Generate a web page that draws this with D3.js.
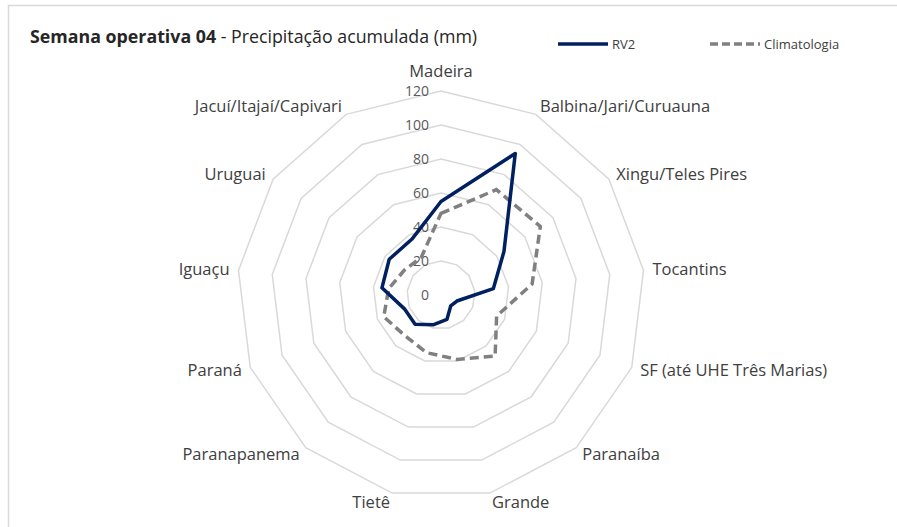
<!DOCTYPE html>
<html>
<head>
<meta charset="utf-8">
<script src="https://cdn.jsdelivr.net/npm/d3@7"></script>
<style>
  body { margin: 0; background: #fff; }
  svg text { font-family: "Open Sans", Lato, sans-serif; fill: #404040; }
</style>
</head>
<body>
<svg id="chart" width="897" height="527"></svg>
<script>
const categories = [
  "Madeira", "Balbina/Jari/Curuauna", "Xingu/Teles Pires", "Tocantins",
  "SF (até UHE Três Marias)", "Paranaíba", "Grande", "Tietê",
  "Paranapanema", "Paraná", "Iguaçu", "Uruguai", "Jacuí/Itajaí/Capivari"
];
const rv2 = [55, 94, 45, 31, 10, 8.6, 14.7, 18, 23, 23, 35, 37, 37];
const climatologia = [48, 70, 71, 54, 35, 48, 39, 35, 32, 36, 31, 26, 25];
const ticks = [0, 20, 40, 60, 80, 100, 120];

const width = 897, height = 527;
const cx = 441, cy = 295, R = 204;

const svg = d3.select("#chart");

// frame
svg.append("rect")
  .attr("x", 8.5).attr("y", 5.5)
  .attr("width", width).attr("height", height)
  .attr("fill", "none").attr("stroke", "#d9d9d9").attr("stroke-width", 1.5);

const g = svg.append("g").attr("transform", `translate(${cx},${cy})`);

const angle = d3.scaleLinear()
  .domain([0, categories.length])
  .range([0, 2 * Math.PI]);
const r = d3.scaleLinear().domain([0, 120]).range([0, R]);

// grid polygons
const ring = d3.lineRadial()
  .angle((d, i) => angle(i))
  .radius(d => r(d))
  .curve(d3.curveLinearClosed);

g.selectAll(".grid")
  .data(ticks.filter(t => t > 0))
  .join("path")
  .attr("d", t => ring(categories.map(() => t)))
  .attr("fill", "none")
  .attr("stroke", "#d9d9d9")
  .attr("stroke-width", 1.5);

// value labels
g.selectAll(".tick")
  .data(ticks)
  .join("text")
  .attr("x", -12)
  .attr("y", t => -r(t))
  .attr("dy", "0.35em")
  .attr("text-anchor", "end")
  .style("font-size", "14px")
  .style("fill", "#595959")
  .text(t => t);

// category labels
g.selectAll(".cat")
  .data(categories)
  .join("text")
  .each(function(d, i) {
    const a = angle(i);
    const s = Math.sin(a), c = Math.cos(a);
    const rr = R + 9;
    let x = rr * s, y = -rr * c;
    let anchor = "middle";
    if (s > 0.1) anchor = "start";
    else if (s < -0.1) anchor = "end";
    if (Math.abs(s) < 0.1) y -= 11;
    d3.select(this)
      .attr("x", x).attr("y", y)
      .attr("dy", "0.35em")
      .attr("text-anchor", anchor);
  })
  .style("font-size", "16.5px")
  .text(d => d);

// series
const line = d3.lineRadial()
  .angle((d, i) => angle(i))
  .radius(d => r(d))
  .curve(d3.curveLinearClosed);

g.append("path")
  .datum(climatologia)
  .attr("d", line)
  .attr("fill", "none")
  .attr("stroke", "#808080")
  .attr("stroke-width", 3.5)
  .attr("stroke-dasharray", "9,5");

g.append("path")
  .datum(rv2)
  .attr("d", line)
  .attr("fill", "none")
  .attr("stroke", "#002060")
  .attr("stroke-width", 3.5)
  .attr("stroke-linejoin", "round");

// title
const title = svg.append("text")
  .attr("x", 30).attr("y", 43)
  .style("font-size", "17.8px")
  .style("fill", "#262626");
title.append("tspan").style("font-weight", "bold").text("Semana operativa 04");
title.append("tspan").text("  - Precipitação acumulada (mm)");

// legend
const legend = [
  { name: "RV2", color: "#002060", dash: null, x: 558 },
  { name: "Climatologia", color: "#808080", dash: "8,4", x: 710 }
];
const lg = svg.selectAll(".legend")
  .data(legend)
  .join("g")
  .attr("transform", d => `translate(${d.x},44)`);
lg.append("line")
  .attr("x1", 0).attr("x2", 50)
  .attr("stroke", d => d.color)
  .attr("stroke-width", 3.5)
  .attr("stroke-dasharray", d => d.dash);
lg.append("text")
  .attr("x", 54).attr("dy", "0.35em")
  .style("font-size", "13px")
  .text(d => d.name);
</script>
</body>
</html>
